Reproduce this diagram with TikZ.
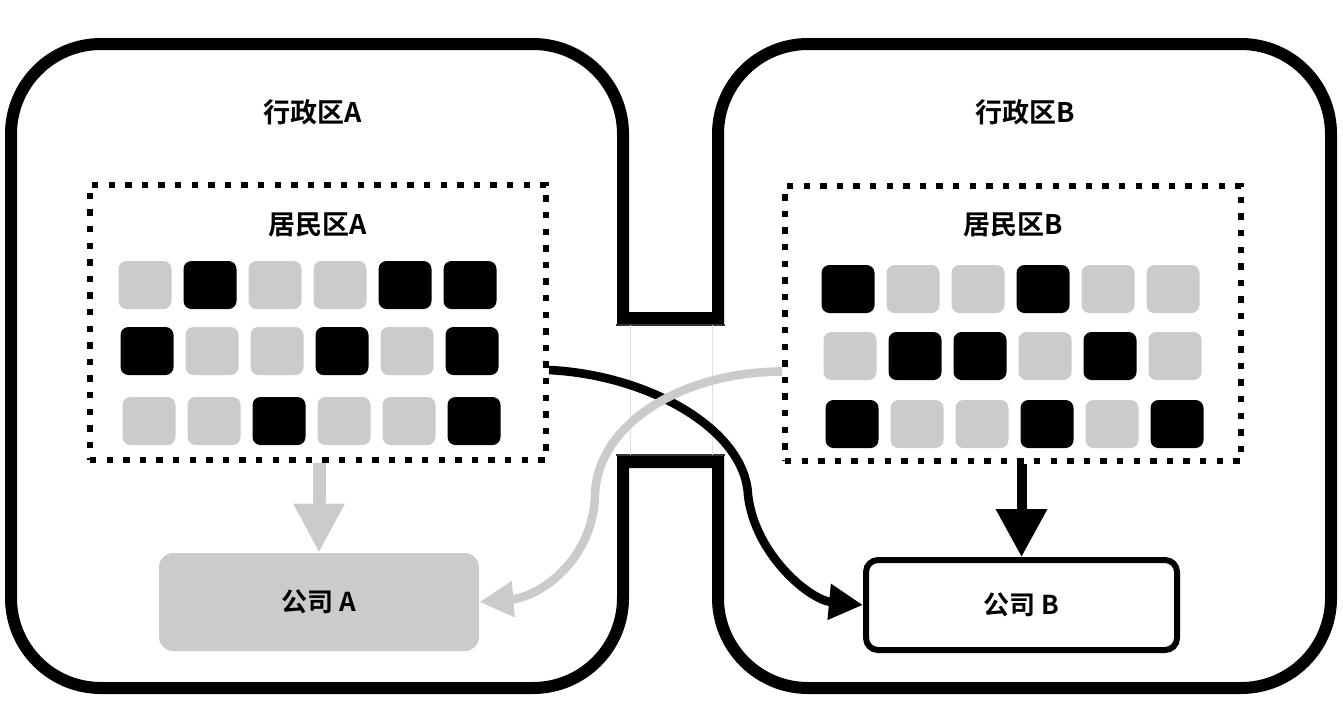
\documentclass[tikz,border=0pt]{standalone}
\usepackage{fontspec}
\setmainfont{Noto Sans CJK SC}[BoldFont={Noto Sans CJK SC Bold}]
\usetikzlibrary{arrows.meta}
\definecolor{housegray}{HTML}{CBCBCB}

\begin{document}
\begin{tikzpicture}[x=0.5pt,y=-0.5pt,
    every node/.style={font=\fontsize{13.5pt}{16pt}\selectfont\bfseries},
    house/.style={rounded corners=4pt,minimum width=26.5pt,minimum height=24pt,inner sep=0pt},
    h0/.style={fill=housegray},
    h1/.style={fill=black},
    zone/.style={draw,line width=3pt,dash pattern=on 3.2pt off 5.1pt,minimum width=228pt,minimum height=137.5pt,inner sep=0pt},
    firm/.style={rounded corners=7pt,minimum width=160pt,minimum height=49pt,font=\fontsize{13pt}{15pt}\selectfont\bfseries},
    wall/.style={line width=6pt}]
  \useasboundingbox (0,0) rectangle (1343,702);

  % Districts, joined by a narrow passage
  \draw[wall] (623,318) [rounded corners=45pt] -- (623,44) -- (11,44) -- (11,688) -- (623,688)
    [sharp corners] -- (623,462) -- (718,462) [rounded corners=45pt] -- (718,688) -- (1331,688) -- (1331,44) -- (718,44)
    [sharp corners] -- (718,318) -- cycle;
  \draw[black!80,line width=1pt] (616,325) -- (725,325) (616,455) -- (725,455);
  \draw[black!12,line width=0.4pt] (630,325) -- (630,455) (712,325) -- (712,455);

  % Nodes
  \node (distA) at (313,112) {行政区A};
  \node (distB) at (1025,112) {行政区B};
  \node[zone] (resA) at (318,322) {};
  \node[zone] (resB) at (1013,323.5) {};
  \node (resAlabel) at (318,225) {居民区A};
  \node (resBlabel) at (1013,225) {居民区B};

  % Houses
  \foreach \cols/\y [count=\r] in {{0,1,0,0,1,1}/285,{1,0,0,1,0,1}/351,{0,0,1,0,0,1}/421}
    \foreach \c [count=\k] in \cols
      \node[house,h\c] (ha\r\k) at ({78+65*\k+2*\r},\y) {};
  \foreach \cols/\y [count=\r] in {{1,0,0,1,0,0}/289,{0,1,1,0,1,0}/356,{1,0,0,1,0,1}/424}
    \foreach \c [count=\k] in \cols
      \node[house,h\c] (hb\r\k) at ({781+65*\k+2*\r},\y) {};

  % Companies
  \node[firm,fill=housegray] (compA) at (319,602) {公司 A};
  \node[firm,draw,line width=3pt,fill=white,rounded corners=6pt,minimum width=155.5pt,minimum height=45pt] (compB) at (1021.5,605) {公司 B};

  % Arrows: stay
  \draw[-{Triangle[width=24pt,length=24.5pt]},housegray,line width=6.5pt] (compA.north |- resA.south) -- (compA.north);
  \draw[-{Triangle[width=24.5pt,length=24pt]},line width=5pt] (compB.north |- resB.south) -- (compB.north);

  % Arrows: cross the border
  \draw[-{Triangle[width=17pt,length=17pt]},line width=4.3pt] ([yshift=-24pt]resA.east)
    .. controls (650,375) and (745,430) .. (748,495) .. controls (755,555) and (810,600) .. (compB.west);
  \draw[-{Triangle[width=17pt,length=17pt]},housegray,line width=4.3pt] ([yshift=-24pt]resB.west)
    .. controls (680,372) and (597,425) .. (595,495) .. controls (593,560) and (540,597) .. (compA.east);

\end{tikzpicture}
\end{document}
